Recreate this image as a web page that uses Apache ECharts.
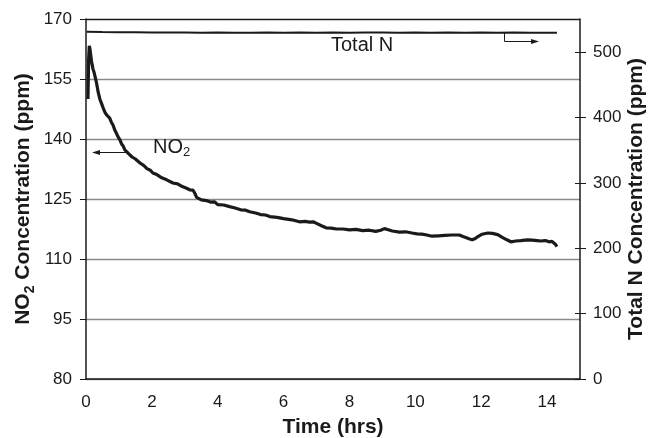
<!DOCTYPE html>
<html>
<head>
<meta charset="utf-8">
<script src="https://cdn.jsdelivr.net/npm/echarts@6/dist/echarts.min.js"></script>
<style>
  html, body { margin: 0; padding: 0; background: #fff; }
  #chart { width: 648px; height: 438px; }
</style>
</head>
<body>
<div id="chart"></div>
<script>
// NO2 concentration (ppm, left axis) over time (hrs)
const no2Time = [0.06, 0.08, 0.1, 0.12, 0.15, 0.17, 0.21, 0.25, 0.29, 0.32, 0.37, 0.42, 0.47, 0.52, 0.58, 0.63, 0.68, 0.72, 0.77, 0.82, 0.87, 0.92, 0.97, 1.03, 1.08, 1.13, 1.18, 1.23, 1.3, 1.4, 1.5, 1.64, 1.75, 1.85, 1.95, 2.03, 2.15, 2.3, 2.45, 2.64, 2.78, 2.9, 3.02, 3.15, 3.25, 3.3, 3.36, 3.42, 3.5, 3.65, 3.8, 3.9, 4.0, 4.18, 4.36, 4.5, 4.7, 4.85, 4.97, 5.15, 5.3, 5.45, 5.58, 5.8, 6.0, 6.25, 6.48, 6.65, 6.79, 6.9, 7.0, 7.15, 7.29, 7.45, 7.6, 7.8, 8.0, 8.2, 8.4, 8.6, 8.8, 8.95, 9.06, 9.18, 9.3, 9.52, 9.7, 9.9, 10.05, 10.2, 10.35, 10.5, 10.7, 10.9, 11.1, 11.33, 11.45, 11.55, 11.65, 11.73, 11.82, 11.9, 12.03, 12.2, 12.34, 12.5, 12.64, 12.78, 12.9, 13.05, 13.2, 13.4, 13.55, 13.7, 13.8, 13.95, 14.06, 14.15, 14.2, 14.25, 14.3];
const no2Value = [150, 160, 163.3, 162.5, 160.6, 159.3, 157.6, 156.5, 155.1, 154, 151.7, 150, 148.9, 147.8, 146.6, 146, 145.8, 145.2, 144.2, 143.5, 142.3, 141.5, 140.6, 139.8, 138.8, 138.2, 137.3, 136.8, 136.3, 135.5, 135.0, 134, 133.4, 132.6, 132.2, 131.5, 131.1, 130.3, 129.8, 129, 128.8, 128.2, 127.8, 127.3, 127.2, 126.5, 125.4, 125.3, 124.8, 124.6, 124.2, 124.3, 123.6, 123.5, 123.1, 122.8, 122.3, 122.2, 121.8, 121.5, 121.1, 121.0, 120.6, 120.4, 120.1, 119.8, 119.3, 119.4, 119.2, 119.3, 118.9, 118.3, 117.8, 117.7, 117.5, 117.5, 117.3, 117.4, 117.1, 117.2, 116.9, 117.2, 117.6, 117.3, 117.0, 116.7, 116.8, 116.5, 116.3, 116.2, 116.0, 115.7, 115.8, 115.9, 116.0, 116.0, 115.6, 115.3, 115.0, 114.8, 115.1, 115.6, 116.2, 116.5, 116.4, 116.1, 115.4, 114.8, 114.3, 114.5, 114.6, 114.8, 114.7, 114.6, 114.5, 114.6, 114.3, 114.4, 114.0, 113.7, 113.1];

// Total N concentration (ppm, right axis) over time (hrs)
const totalNTime = [0.02, 0.5, 1, 1.5, 2, 2.5, 3, 3.5, 4, 4.5, 5, 5.5, 6, 6.5, 7, 7.5, 8, 8.5, 9, 9.5, 10, 10.5, 11, 11.5, 12, 12.5, 13, 13.5, 14, 14.3];
const totalNValue = [531.5, 531, 530.6, 530.8, 530.5, 530.2, 530.4, 530, 530.3, 530.1, 530, 530.3, 530.1, 530.2, 529.9, 530.2, 530, 530.3, 530.2, 529.9, 530.2, 530, 530.3, 530, 530.4, 530.1, 530.2, 529.9, 530.1, 530];

// Axis tick labels
const timeTicks = [0, 2, 4, 6, 8, 10, 12, 14];
const no2Ticks = [80, 95, 110, 125, 140, 155, 170];
const totalNTicks = [0, 100, 200, 300, 400, 500];

const FONT = '"Liberation Sans", Arial, Helvetica, sans-serif';
const INK = '#1a1a1a';

const chart = echarts.init(document.getElementById('chart'), null, { renderer: 'canvas' });

const pairs = (xs, ys) => xs.map((x, i) => [x, ys[i]]);

// Interior grid lines grey, top edge of the plot frame dark
const splitColors = no2Ticks.map((v, i) => (i === no2Ticks.length - 1 ? INK : '#8a8a8a'));

chart.setOption({
  animation: false,
  backgroundColor: '#ffffff',
  grid: { left: 86, right: 68, top: 19, bottom: 59, containLabel: false, outerBoundsMode: 'none' },
  xAxis: {
    type: 'value',
    min: 0,
    max: 15,
    name: 'Time (hrs)',
    nameLocation: 'middle',
    nameGap: 38,
    nameMoveOverlap: false,
    nameTextStyle: { fontFamily: FONT, fontSize: 21, fontWeight: 'bold', color: INK },
    axisLine: { show: true, lineStyle: { color: INK, width: 1.5 } },
    axisTick: { show: false },
    axisLabel: { customValues: timeTicks, fontFamily: FONT, fontSize: 17, color: INK, margin: 15 },
    splitLine: { show: false }
  },
  yAxis: [
    {
      type: 'value',
      position: 'left',
      min: 80,
      max: 170,
      name: '{b|NO}{s|2}{b| Concentration (ppm)}',
      nameLocation: 'middle',
      nameGap: 49,
      nameMoveOverlap: false,
      nameTextStyle: {
        rich: {
          b: { fontFamily: FONT, fontSize: 21, fontWeight: 'bold', color: INK, lineHeight: 27 },
          s: { fontFamily: FONT, fontSize: 14, fontWeight: 'bold', color: INK, lineHeight: 14, verticalAlign: 'bottom' }
        }
      },
      axisLine: { show: true, lineStyle: { color: INK, width: 1.5 } },
      axisTick: { show: true, customValues: no2Ticks, length: 6, lineStyle: { color: INK } },
      axisLabel: { customValues: no2Ticks, fontFamily: FONT, fontSize: 17, color: INK, margin: 14 },
      splitLine: { show: true, lineStyle: { color: splitColors, width: 1.3 } }
    },
    {
      type: 'value',
      position: 'right',
      min: 0,
      max: 551,
      name: 'Total N Concentration (ppm)',
      nameLocation: 'middle',
      nameGap: 46,
      nameMoveOverlap: false,
      nameTextStyle: { fontFamily: FONT, fontSize: 21, fontWeight: 'bold', color: INK },
      axisLine: { show: true, lineStyle: { color: INK, width: 1.5 } },
      axisTick: { show: true, customValues: totalNTicks, length: 6, lineStyle: { color: INK } },
      axisLabel: { customValues: totalNTicks, fontFamily: FONT, fontSize: 17, color: INK, margin: 13 },
      splitLine: { show: false }
    },
    {
      // inner half of the right-axis cross ticks
      type: 'value',
      position: 'right',
      min: 0,
      max: 551,
      axisLine: { show: false },
      axisTick: { show: true, inside: true, customValues: totalNTicks, length: 5, lineStyle: { color: INK } },
      axisLabel: { show: false },
      splitLine: { show: false }
    }
  ],
  series: [
    {
      name: 'NO2',
      type: 'line',
      yAxisIndex: 0,
      data: pairs(no2Time, no2Value),
      showSymbol: false,
      smooth: false,
      lineStyle: { color: INK, width: 3.2 },
      z: 5
    },
    {
      name: 'Total N',
      type: 'line',
      yAxisIndex: 1,
      data: pairs(totalNTime, totalNValue),
      showSymbol: false,
      lineStyle: { color: INK, width: 2 },
      z: 5
    }
  ],
  graphic: [
    // NO2 label with arrow pointing to the left axis
    {
      type: 'text',
      left: 153,
      top: 137,
      style: {
        text: '{m|NO}{s|2}',
        rich: {
          m: { fontFamily: FONT, fontSize: 20, fill: INK, lineHeight: 24 },
          s: { fontFamily: FONT, fontSize: 13, fill: INK, lineHeight: 13, verticalAlign: 'bottom' }
        }
      },
      z: 10
    },
    { type: 'line', shape: { x1: 99, y1: 152.5, x2: 127, y2: 152.5 }, style: { stroke: INK, lineWidth: 1 }, z: 10 },
    { type: 'polygon', shape: { points: [[92, 152.5], [100, 150], [100, 155]] }, style: { fill: INK }, z: 10 },
    // Total N label with arrow pointing to the right axis
    {
      type: 'text',
      left: 331,
      top: 35,
      style: { text: 'Total N', fontFamily: FONT, fontSize: 20, fill: INK },
      z: 10
    },
    { type: 'polyline', shape: { points: [[504.5, 33], [504.5, 41.5], [532, 41.5]] }, style: { stroke: INK, lineWidth: 1, fill: null }, z: 10 },
    { type: 'polygon', shape: { points: [[539, 41.5], [531, 39], [531, 44]] }, style: { fill: INK }, z: 10 }
  ]
});
</script>
</body>
</html>
